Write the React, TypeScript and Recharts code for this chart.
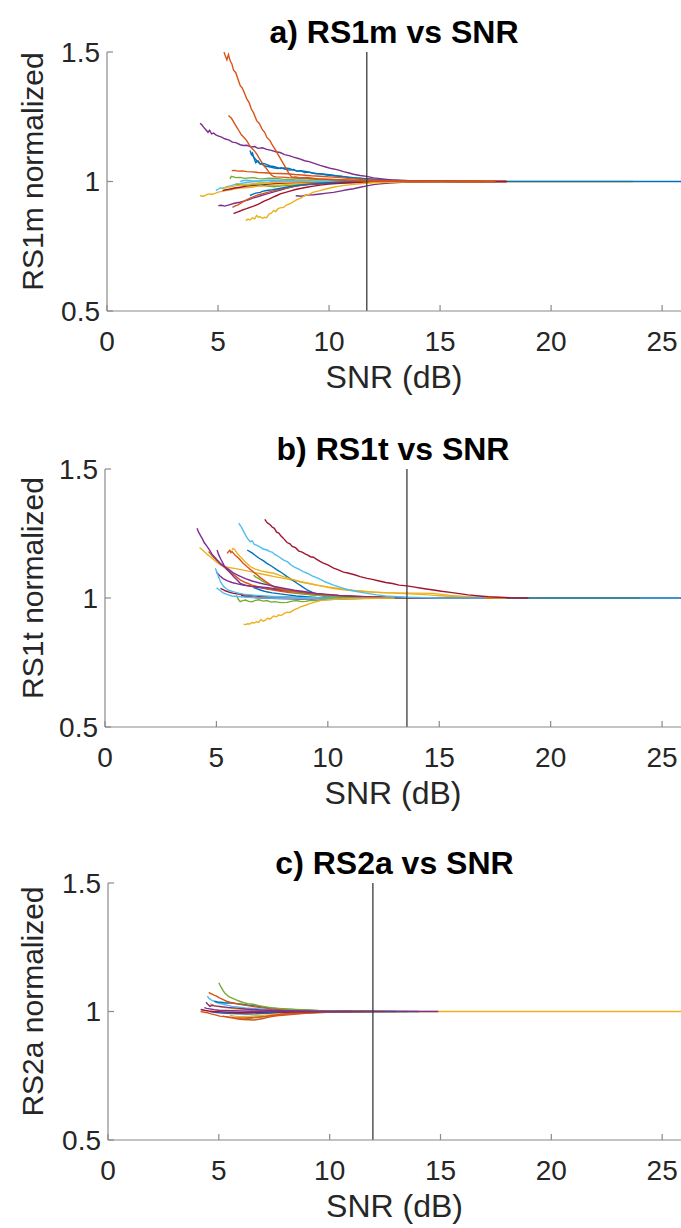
import React from 'react';
import { LineChart, Line, XAxis, YAxis, ReferenceLine, Label } from 'recharts';

const FONT = '"Liberation Sans", Arial, Helvetica, sans-serif';
const X_TICKS = [0, 5, 10, 15, 20, 25];
const Y_TICKS = [0.5, 1, 1.5];
const X_DOMAIN: [number, number] = [0, 25.85];
const Y_DOMAIN: [number, number] = [0.5, 1.5];

const C = {
  blue: '#0072BD',
  orange: '#D95319',
  yellow: '#EDB120',
  purple: '#7E2F8E',
  green: '#77AC30',
  cyan: '#4DBEEE',
  red: '#A2142F',
};

type P = [number, number][];

// ---------- Panel a) RS1m ----------
const A_yellowLong: P = [[4.19,0.946],[4.3,0.943],[4.4,0.945],[4.5,0.95],[4.6,0.952],[4.75,0.951],[4.9,0.955],[5.05,0.96],[5.2,0.962],[5.4,0.966],[5.6,0.968],[5.8,0.973],[6.0,0.975],[6.25,0.976],[6.5,0.978],[6.75,0.981],[7.0,0.982],[7.3,0.983],[7.6,0.985],[8.0,0.988],[8.3,0.99],[8.7,0.991],[9.2,0.993],[9.7,0.995],[10.2,0.996],[10.8,0.997],[11.5,0.998],[12.2,0.999],[13,1.0],[16,1.0],[20,1.0],[23.7,1.0]];
const A_blue1: P = [[6.44,1.12],[6.5,1.105],[6.55,1.11],[6.62,1.09],[6.7,1.072],[6.8,1.08],[6.9,1.068],[7.0,1.066],[7.1,1.06],[7.25,1.058],[7.4,1.055],[7.55,1.052],[7.7,1.05],[7.85,1.053],[8.0,1.048],[8.2,1.044],[8.4,1.046],[8.55,1.04],[8.7,1.042],[8.9,1.035],[9.1,1.036],[9.35,1.031],[9.6,1.03],[9.9,1.025],[10.2,1.022],[10.5,1.02],[10.9,1.015],[11.3,1.013],[11.7,1.01],[12.1,1.007],[12.5,1.005],[13.2,1.003],[14,1.002],[16,1.0],[20,1.0],[26,1.0]];
const A_blue2: P = [[6.5,1.105],[6.6,1.095],[6.7,1.085],[6.8,1.075],[6.9,1.068],[7.05,1.07],[7.2,1.065],[7.35,1.06],[7.5,1.058],[7.65,1.054],[7.8,1.05],[8.0,1.052],[8.2,1.05],[8.4,1.044],[8.6,1.04],[8.8,1.041],[9.0,1.038],[9.25,1.033],[9.5,1.03],[9.8,1.028],[10.1,1.025],[10.4,1.021],[10.8,1.018],[11.1,1.015],[11.5,1.012],[12.0,1.009],[12.5,1.006],[13.2,1.004],[14,1.002],[17,1.0]];
const A_orange1: P = [[5.27,1.5],[5.33,1.485],[5.4,1.47],[5.47,1.49],[5.55,1.465],[5.62,1.455],[5.7,1.43],[5.8,1.42],[5.9,1.395],[6.0,1.37],[6.08,1.362],[6.15,1.35],[6.22,1.335],[6.29,1.32],[6.4,1.305],[6.5,1.28],[6.6,1.265],[6.74,1.235],[6.85,1.225],[7.0,1.2],[7.1,1.19],[7.2,1.17],[7.34,1.158],[7.45,1.14],[7.6,1.12],[7.7,1.105],[7.87,1.08],[8.0,1.06],[8.1,1.045],[8.2,1.03],[8.32,1.017],[8.5,1.018],[8.7,1.014],[9.0,1.016],[9.5,1.01],[10.2,1.008],[11,1.005],[12,1.003],[13,1.002],[15,1.001],[17.5,1.0]];
const A_orange2: P = [[5.47,1.255],[5.53,1.25],[5.6,1.245],[5.7,1.23],[5.84,1.21],[5.95,1.195],[6.05,1.18],[6.15,1.172],[6.29,1.158],[6.4,1.142],[6.5,1.13],[6.62,1.12],[6.74,1.107],[6.85,1.09],[7.0,1.07],[7.1,1.058],[7.19,1.049],[7.3,1.035],[7.4,1.025],[7.5,1.02],[7.6,1.018],[7.9,1.017],[8.2,1.015],[8.8,1.013],[9.5,1.01],[10.2,1.007],[11,1.004],[12,1.002],[13,1.001],[17,1.0]];
const A_purpleHigh: P = [[4.19,1.225],[4.28,1.218],[4.35,1.21],[4.45,1.2],[4.55,1.19],[4.62,1.198],[4.71,1.184],[4.8,1.187],[4.9,1.18],[5.0,1.176],[5.16,1.171],[5.3,1.165],[5.5,1.16],[5.65,1.152],[5.8,1.15],[6.0,1.142],[6.14,1.139],[6.3,1.14],[6.5,1.133],[6.65,1.135],[6.8,1.128],[7.0,1.13],[7.19,1.124],[7.4,1.12],[7.6,1.115],[7.8,1.112],[8.0,1.104],[8.2,1.1],[8.4,1.094],[8.65,1.088],[8.9,1.08],[9.1,1.077],[9.4,1.068],[9.6,1.062],[9.89,1.055],[10.1,1.05],[10.4,1.045],[10.65,1.038],[10.9,1.033],[11.1,1.028],[11.4,1.023],[11.7,1.02],[12,1.014],[12.4,1.01],[12.8,1.006],[13.3,1.004],[14,1.002],[16,1.0]];
const A_orangeFlat: P = [[5.62,1.042],[5.75,1.043],[5.9,1.04],[6.1,1.041],[6.3,1.038],[6.55,1.037],[6.8,1.035],[7.1,1.034],[7.4,1.032],[7.75,1.031],[8.1,1.03],[8.45,1.027],[8.8,1.025],[9.2,1.022],[9.6,1.02],[10.0,1.018],[10.5,1.015],[11.0,1.011],[11.5,1.008],[12.2,1.005],[13,1.003],[15,1.001],[18,1.0]];
const A_green1: P = [[5.54,1.01],[5.6,1.02],[5.7,1.018],[5.8,1.015],[6.0,1.016],[6.2,1.012],[6.4,1.014],[6.6,1.015],[6.8,1.011],[7.0,1.01],[7.3,1.013],[7.6,1.012],[7.9,1.009],[8.3,1.008],[8.6,1.011],[9.0,1.01],[9.5,1.007],[10,1.006],[11,1.004],[12.5,1.002],[14.5,1.0],[17.5,1.0]];
const A_cyan1: P = [[4.9,0.965],[5.0,0.97],[5.1,0.975],[5.25,0.974],[5.4,0.98],[5.6,0.984],[5.8,0.99],[6.0,0.992],[6.2,0.995],[6.45,0.998],[6.7,1.0],[7.0,0.997],[7.3,0.998],[7.65,1.001],[8.0,1.002],[8.5,0.999],[9,1.0],[9.7,1.001],[10.5,1.002],[12,1.0],[15,1.0]];
const A_purpleLow: P = [[5.01,0.907],[5.15,0.908],[5.3,0.905],[5.5,0.91],[5.7,0.915],[5.85,0.918],[6.0,0.92],[6.2,0.925],[6.4,0.93],[6.55,0.936],[6.74,0.94],[6.95,0.946],[7.2,0.952],[7.4,0.957],[7.6,0.962],[7.85,0.968],[8.1,0.975],[8.4,0.98],[8.7,0.985],[9.1,0.988],[9.5,0.99],[10,0.993],[10.5,0.995],[11.2,0.997],[12,0.998],[14,1.0],[16,1.0]];
const A_purpleLow2: P = [[8.5,0.945],[8.75,0.943],[9.0,0.948],[9.3,0.949],[9.6,0.952],[9.9,0.955],[10.2,0.958],[10.5,0.963],[10.8,0.968],[11.1,0.972],[11.4,0.978],[11.7,0.983],[12,0.988],[12.3,0.991],[12.7,0.994],[13.1,0.996],[13.5,0.998],[15,1.0]];
const A_redLow: P = [[5.7,0.876],[5.8,0.88],[5.9,0.883],[6.0,0.886],[6.1,0.89],[6.25,0.894],[6.44,0.9],[6.6,0.905],[6.8,0.912],[6.95,0.918],[7.1,0.925],[7.3,0.932],[7.48,0.94],[7.65,0.946],[7.8,0.952],[8.0,0.957],[8.2,0.962],[8.45,0.968],[8.7,0.973],[9.0,0.978],[9.3,0.982],[9.6,0.986],[10,0.99],[10.5,0.993],[11,0.995],[11.7,0.997],[12.5,0.999],[15,1.0],[18,1.0]];
const A_yellowLow: P = [[6.25,0.849],[6.35,0.855],[6.45,0.852],[6.55,0.86],[6.65,0.856],[6.74,0.869],[6.82,0.862],[6.9,0.864],[7.0,0.858],[7.1,0.862],[7.19,0.86],[7.3,0.874],[7.4,0.878],[7.5,0.888],[7.6,0.884],[7.7,0.895],[7.8,0.898],[7.95,0.9],[8.1,0.91],[8.24,0.914],[8.4,0.922],[8.55,0.93],[8.7,0.935],[8.9,0.945],[9.1,0.95],[9.3,0.959],[9.55,0.964],[9.8,0.97],[10.0,0.974],[10.2,0.978],[10.6,0.984],[11,0.988],[11.5,0.992],[12,0.995],[12.7,0.997],[13.5,0.999],[16,1.0]];
const A_blueLow: P = [[6.44,0.946],[6.55,0.95],[6.7,0.955],[6.9,0.958],[7.0,0.962],[7.19,0.965],[7.45,0.968],[7.7,0.972],[7.95,0.976],[8.2,0.98],[8.5,0.984],[8.8,0.987],[9.1,0.99],[9.5,0.992],[10,0.995],[10.5,0.997],[11.2,0.999],[12,1.0],[14,1.0]];
const A_redMid: P = [[5.2,0.965],[5.35,0.968],[5.5,0.97],[5.75,0.975],[6,0.978],[6.3,0.982],[6.6,0.985],[6.95,0.988],[7.3,0.99],[7.75,0.993],[8.2,0.995],[8.8,0.997],[9.5,0.998],[11,1.0],[14,1.0],[18,1.0]];
const A_green2: P = [[5.8,0.99],[6.0,0.988],[6.2,0.985],[6.5,0.988],[6.8,0.99],[7.1,0.984],[7.5,0.98],[7.9,0.983],[8.3,0.985],[8.7,0.988],[9.2,0.99],[9.7,0.993],[10.2,0.995],[10.8,0.997],[11.5,0.998],[13,1.0],[17,1.0]];
const A_orangeLow: P = [[5.65,0.9],[5.75,0.905],[5.9,0.91],[6.1,0.92],[6.3,0.93],[6.55,0.94],[6.8,0.948],[7.1,0.955],[7.4,0.962],[7.75,0.969],[8.1,0.975],[8.5,0.982],[9,0.988],[9.5,0.992],[10,0.995],[10.7,0.997],[11.5,0.999],[14,1.0]];
const A_yellowMid: P = [[5.2,0.975],[5.4,0.977],[5.6,0.98],[5.85,0.984],[6.1,0.988],[6.4,0.99],[6.7,0.992],[7.1,0.994],[7.5,0.996],[8.0,0.997],[8.5,0.998],[10,1.0],[13,1.0],[17,1.0]];
const A_cyan2: P = [[6.0,1.0],[6.15,1.004],[6.3,1.005],[6.55,1.003],[6.8,1.002],[7.15,1.005],[7.5,1.006],[7.9,1.004],[8.3,1.004],[8.75,1.005],[9.2,1.003],[9.8,1.002],[10.5,1.001],[12,1.0],[15,1.0]];

// ---------- Panel b) RS1t ----------
const B_yellowUp: P = [[4.24,1.196],[4.35,1.188],[4.45,1.18],[4.6,1.168],[4.73,1.16],[4.85,1.15],[5.0,1.14],[5.15,1.13],[5.33,1.121],[5.55,1.118],[5.8,1.115],[6.1,1.11],[6.53,1.102],[6.85,1.096],[7.2,1.09],[7.6,1.083],[8.02,1.076],[8.35,1.07],[8.7,1.064],[9.1,1.057],[9.52,1.05],[10.0,1.043],[10.5,1.037],[11.1,1.03],[11.76,1.024],[12.4,1.021],[13,1.02],[13.8,1.019],[14.74,1.018],[15.1,1.014],[15.5,1.01],[16.0,1.007],[16.5,1.004],[17.2,1.002],[18,1.0],[21,1.0],[24,1.0]];
const B_blue: P = [[6.38,1.186],[6.5,1.18],[6.6,1.175],[6.75,1.165],[6.9,1.155],[7.1,1.145],[7.27,1.134],[7.5,1.122],[7.7,1.11],[7.95,1.097],[8.17,1.083],[8.4,1.07],[8.6,1.058],[8.85,1.044],[9.07,1.031],[9.35,1.02],[9.6,1.012],[9.9,1.006],[10.26,1.003],[10.8,1.0],[11.5,0.999],[12.5,1.0],[14,1.0],[20,1.0],[26,1.0]];
const B_redHigh: P = [[7.17,1.305],[7.25,1.295],[7.3,1.29],[7.4,1.285],[7.5,1.275],[7.6,1.27],[7.7,1.255],[7.8,1.252],[7.9,1.24],[8.0,1.232],[8.17,1.215],[8.3,1.21],[8.4,1.2],[8.55,1.195],[8.7,1.182],[8.85,1.178],[9.0,1.17],[9.1,1.166],[9.22,1.16],[9.35,1.158],[9.5,1.15],[9.65,1.142],[9.8,1.135],[10.0,1.128],[10.26,1.116],[10.45,1.11],[10.7,1.1],[10.9,1.097],[11.2,1.09],[11.45,1.083],[11.76,1.076],[12.0,1.072],[12.3,1.066],[12.6,1.06],[12.9,1.056],[13.2,1.05],[13.55,1.047],[13.9,1.042],[14.2,1.038],[14.5,1.034],[14.74,1.031],[15.1,1.026],[15.5,1.022],[15.9,1.017],[16.3,1.012],[16.8,1.008],[17.2,1.005],[17.7,1.003],[18.2,1.001],[19,1.0]];
const B_cyanHigh: P = [[6.0,1.29],[6.08,1.28],[6.15,1.27],[6.22,1.258],[6.3,1.245],[6.4,1.23],[6.52,1.218],[6.6,1.222],[6.7,1.208],[6.8,1.205],[6.9,1.2],[7.0,1.195],[7.1,1.19],[7.27,1.186],[7.4,1.18],[7.5,1.178],[7.6,1.17],[7.8,1.16],[8.02,1.147],[8.2,1.14],[8.35,1.128],[8.5,1.12],[8.7,1.112],[8.9,1.102],[9.07,1.096],[9.3,1.086],[9.6,1.075],[9.9,1.062],[10.26,1.05],[10.6,1.04],[10.9,1.032],[11.3,1.025],[11.76,1.018],[12.2,1.012],[12.6,1.008],[13.5,1.003],[15,1.0],[17,1.0]];
const B_purple1: P = [[4.13,1.27],[4.2,1.255],[4.3,1.24],[4.38,1.228],[4.45,1.215],[4.58,1.2],[4.7,1.185],[4.8,1.17],[4.92,1.158],[5.03,1.147],[5.2,1.132],[5.4,1.12],[5.6,1.108],[5.78,1.096],[6.0,1.087],[6.3,1.075],[6.6,1.066],[6.98,1.057],[7.3,1.051],[7.6,1.045],[8.0,1.038],[8.5,1.03],[9.0,1.024],[9.5,1.018],[10.0,1.014],[10.5,1.01],[11.2,1.007],[12,1.004],[13,1.002],[14,1.0],[17,1.0]];
const B_yellow2: P = [[5.7,1.186],[5.75,1.192],[5.8,1.19],[5.92,1.175],[6.07,1.16],[6.18,1.15],[6.3,1.14],[6.42,1.13],[6.53,1.121],[6.75,1.112],[7.0,1.105],[7.3,1.1],[7.57,1.096],[7.85,1.088],[8.1,1.08],[8.45,1.071],[8.77,1.063],[9.1,1.057],[9.5,1.05],[9.9,1.043],[10.26,1.037],[10.7,1.032],[11.2,1.028],[11.7,1.025],[12.2,1.022],[12.7,1.02],[13.25,1.018],[13.9,1.015],[14.5,1.012],[15.2,1.008],[16,1.004],[17,1.002],[18,1.0]];
const B_orange1: P = [[5.48,1.173],[5.55,1.18],[5.6,1.185],[5.65,1.176],[5.7,1.18],[5.78,1.172],[5.85,1.165],[5.95,1.158],[6.07,1.147],[6.2,1.135],[6.38,1.121],[6.6,1.105],[6.83,1.089],[7.0,1.077],[7.2,1.065],[7.4,1.053],[7.57,1.044],[7.8,1.036],[8.1,1.03],[8.4,1.027],[8.77,1.024],[9.2,1.019],[9.6,1.015],[10.2,1.011],[10.8,1.008],[11.6,1.005],[12.5,1.003],[15,1.0],[18,1.0]];
const B_orange2: P = [[4.65,1.18],[4.75,1.17],[4.85,1.16],[4.97,1.15],[5.1,1.14],[5.2,1.13],[5.33,1.121],[5.5,1.108],[5.7,1.095],[5.9,1.082],[6.07,1.07],[6.3,1.06],[6.6,1.05],[6.95,1.042],[7.3,1.035],[7.75,1.028],[8.2,1.022],[8.7,1.017],[9.3,1.012],[9.9,1.009],[10.5,1.006],[11.2,1.004],[12,1.002],[15,1.0]];
const B_purple2: P = [[5.03,1.186],[5.1,1.168],[5.2,1.15],[5.28,1.137],[5.35,1.125],[5.48,1.11],[5.65,1.095],[5.8,1.08],[5.95,1.068],[6.07,1.057],[6.3,1.05],[6.6,1.045],[6.95,1.043],[7.3,1.04],[7.7,1.035],[8.1,1.03],[8.5,1.025],[9,1.02],[9.5,1.016],[10,1.012],[10.7,1.008],[11.5,1.004],[12.5,1.002],[13.5,1.0],[17,1.0]];
const B_cyan2: P = [[4.95,1.115],[5.02,1.1],[5.1,1.08],[5.2,1.06],[5.33,1.044],[5.45,1.036],[5.55,1.03],[5.65,1.027],[5.78,1.024],[6.0,1.019],[6.2,1.015],[6.5,1.012],[6.8,1.01],[7.2,1.008],[7.6,1.006],[8.1,1.004],[8.6,1.002],[10,1.0],[13,1.0]];
const B_redLow: P = [[5.18,1.037],[5.3,1.032],[5.4,1.028],[5.6,1.022],[5.78,1.018],[6.0,1.015],[6.3,1.012],[6.55,1.01],[6.8,1.008],[7.0,1.006],[7.27,1.005],[7.7,1.004],[8.2,1.003],[8.8,1.001],[9.5,1.0],[12,1.0],[16,1.0]];
const B_green1: P = [[5.9,1.01],[5.98,0.995],[6.07,0.986],[6.18,0.99],[6.3,0.992],[6.45,0.987],[6.6,0.985],[6.75,0.991],[6.9,0.993],[7.1,0.988],[7.27,0.99],[7.45,0.984],[7.6,0.986],[7.9,0.982],[8.17,0.983],[8.4,0.988],[8.6,0.99],[8.8,0.986],[9.0,0.987],[9.25,0.991],[9.52,0.99],[9.9,0.993],[10.3,0.995],[10.9,0.997],[11.5,0.998],[13,1.0],[17,1.0]];
const B_yellowLow: P = [[6.22,0.898],[6.3,0.897],[6.4,0.9],[6.5,0.899],[6.6,0.905],[6.7,0.903],[6.8,0.908],[6.9,0.905],[7.0,0.917],[7.1,0.91],[7.2,0.914],[7.3,0.922],[7.4,0.918],[7.57,0.93],[7.7,0.927],[7.8,0.935],[7.9,0.932],[8.05,0.94],[8.17,0.945],[8.3,0.944],[8.5,0.955],[8.65,0.96],[8.77,0.966],[9.0,0.972],[9.2,0.978],[9.45,0.985],[9.67,0.99],[10.0,0.993],[10.3,0.995],[11,0.997],[11.5,0.999],[13,1.0]];
const B_green2: P = [[6.67,1.089],[6.75,1.082],[6.9,1.075],[7.05,1.066],[7.2,1.06],[7.4,1.051],[7.57,1.044],[7.8,1.037],[8.1,1.03],[8.4,1.024],[8.77,1.018],[9.1,1.014],[9.5,1.01],[10,1.007],[10.5,1.004],[11.2,1.002],[12,1.0],[16,1.0]];
const B_blue2: P = [[6.67,1.04],[6.8,1.036],[7.0,1.03],[7.25,1.024],[7.5,1.02],[7.85,1.016],[8.2,1.012],[8.6,1.008],[9.0,1.005],[9.5,1.002],[10,1.0],[10.5,0.997],[11,0.998],[11.7,0.999],[12.5,1.0],[16,1.0]];
const B_purple3: P = [[5.0,1.1],[5.15,1.086],[5.3,1.075],[5.5,1.066],[5.7,1.06],[5.95,1.055],[6.2,1.05],[6.55,1.045],[6.9,1.04],[7.35,1.035],[7.8,1.03],[8.3,1.025],[8.8,1.02],[9.4,1.015],[10,1.01],[10.7,1.007],[11.5,1.004],[12.5,1.002],[13.5,1.0],[17,1.0]];
const B_redLow2: P = [[6.1,1.01],[6.3,1.007],[6.5,1.005],[6.75,1.002],[7.0,1.0],[7.4,0.999],[7.8,0.998],[8.3,0.997],[8.8,0.996],[9.4,0.997],[10,0.998],[11,0.999],[12,1.0],[16,1.0]];
const B_cyanLow: P = [[5.0,1.04],[5.15,1.03],[5.3,1.02],[5.5,1.013],[5.7,1.008],[5.95,1.006],[6.2,1.004],[6.6,1.002],[7,1.0],[8,0.999],[9,0.998],[10,0.999],[11,1.0],[14,1.0]];

// ---------- Panel c) RS2a ----------
const C_yellow: P = [[4.6,1.03],[4.75,1.025],[4.9,1.02],[5.1,1.017],[5.3,1.015],[5.55,1.012],[5.8,1.01],[6.15,1.008],[6.5,1.006],[7.0,1.004],[7.5,1.003],[8.2,1.002],[9,1.001],[11,1.0],[15,1.0],[20,1.0],[26,1.0]];
const C_green1: P = [[5.0,1.112],[5.05,1.103],[5.1,1.095],[5.15,1.088],[5.2,1.08],[5.27,1.072],[5.34,1.066],[5.45,1.058],[5.6,1.052],[5.75,1.046],[5.94,1.04],[6.1,1.035],[6.3,1.03],[6.45,1.029],[6.6,1.027],[6.8,1.023],[7.0,1.02],[7.2,1.017],[7.42,1.014],[7.7,1.012],[8.0,1.01],[8.5,1.008],[9.0,1.006],[9.5,1.004],[10.5,1.002],[12,1.0],[13.5,1.0]];
const C_orange1: P = [[4.55,1.075],[4.62,1.07],[4.7,1.068],[4.8,1.063],[4.9,1.06],[5.0,1.054],[5.1,1.05],[5.22,1.045],[5.34,1.04],[5.5,1.036],[5.7,1.032],[5.9,1.029],[6.07,1.026],[6.3,1.023],[6.5,1.02],[6.8,1.016],[7.1,1.013],[7.5,1.01],[8,1.008],[8.5,1.006],[9,1.004],[9.7,1.002],[10.5,1.001],[12.5,1.0]];
const C_cyan: P = [[4.48,1.06],[4.55,1.052],[4.65,1.045],[4.78,1.04],[4.9,1.035],[5.05,1.031],[5.2,1.028],[5.4,1.024],[5.6,1.02],[5.9,1.017],[6.2,1.014],[6.5,1.012],[6.8,1.01],[7.2,1.008],[7.6,1.006],[8.1,1.004],[8.6,1.003],[9.3,1.001],[10,1.0],[12,1.0]];
const C_blue1: P = [[4.8,1.04],[4.95,1.037],[5.1,1.036],[5.3,1.033],[5.57,1.034],[5.75,1.031],[5.9,1.03],[6.05,1.028],[6.2,1.026],[6.5,1.023],[6.8,1.02],[7.1,1.016],[7.42,1.013],[7.8,1.01],[8.2,1.008],[8.7,1.006],[9.2,1.004],[9.8,1.002],[10.5,1.001],[13,1.0]];
const C_red: P = [[4.18,1.008],[4.3,1.006],[4.4,1.004],[4.55,1.002],[4.73,1.0],[4.95,0.999],[5.2,0.998],[5.5,0.997],[5.8,0.996],[6.15,0.995],[6.5,0.996],[6.9,0.997],[7.4,0.998],[8.0,0.998],[8.5,0.999],[10,1.0],[12,1.0]];
const C_orangeLow1: P = [[4.18,1.0],[4.35,0.997],[4.5,0.995],[4.65,0.991],[4.8,0.988],[4.92,0.985],[5.04,0.982],[5.25,0.98],[5.5,0.978],[5.7,0.976],[5.94,0.975],[6.2,0.975],[6.5,0.977],[6.8,0.979],[7.1,0.981],[7.5,0.986],[7.9,0.99],[8.3,0.993],[8.8,0.995],[9.4,0.997],[10,0.999],[11.5,1.0]];
const C_orangeLow2: P = [[5.19,0.982],[5.35,0.979],[5.5,0.976],[5.65,0.974],[5.8,0.972],[5.95,0.97],[6.1,0.969],[6.35,0.968],[6.6,0.967],[6.8,0.97],[7.0,0.973],[7.2,0.977],[7.45,0.981],[7.7,0.984],[8.0,0.986],[8.25,0.988],[8.5,0.99],[8.9,0.993],[9.3,0.995],[9.9,0.997],[10.5,0.999],[12,1.0]];
const C_yellowLow: P = [[5.5,0.985],[5.7,0.982],[5.9,0.98],[6.15,0.981],[6.4,0.982],[6.7,0.984],[7,0.985],[7.4,0.988],[7.8,0.99],[8.3,0.993],[8.8,0.995],[9.4,0.997],[10,0.998],[12,1.0]];
const C_greenLow: P = [[5.94,0.971],[6.05,0.97],[6.2,0.972],[6.4,0.973],[6.6,0.975],[6.85,0.977],[7.1,0.98],[7.45,0.984],[7.8,0.987],[8.2,0.99],[8.7,0.993],[9.2,0.995],[9.8,0.997],[10.5,0.999],[11.5,1.0]];
const C_blueLow: P = [[4.6,1.0],[4.8,0.997],[5,0.995],[5.3,0.993],[5.6,0.992],[5.95,0.991],[6.3,0.99],[6.7,0.991],[7.2,0.993],[7.7,0.995],[8.2,0.996],[8.8,0.998],[9.5,0.999],[11.5,1.0],[14,1.0]];
const C_purple2: P = [[4.35,1.015],[4.45,1.012],[4.6,1.01],[4.8,1.007],[5.0,1.005],[5.3,1.004],[5.6,1.003],[6.0,1.002],[6.5,1.001],[8,1.0],[11,1.0]];
const C_purple: P = [[4.42,1.036],[4.5,1.028],[4.6,1.02],[4.7,1.024],[4.8,1.022],[4.92,1.021],[5.03,1.02],[5.2,1.018],[5.4,1.016],[5.65,1.014],[5.9,1.012],[6.2,1.01],[6.5,1.008],[6.9,1.006],[7.3,1.005],[7.9,1.003],[8.5,1.002],[9.2,1.001],[10,1.0],[12,1.0],[14.9,1.0]];

type S = { color: string; pts: P };

const SERIES_A: S[] = [
  { color: C.yellow, pts: A_yellowLong },
  { color: C.blue, pts: A_blue1 },
  { color: C.blue, pts: A_blue2 },
  { color: C.green, pts: A_green1 },
  { color: C.cyan, pts: A_cyan1 },
  { color: C.red, pts: A_redMid },
  { color: C.green, pts: A_green2 },
  { color: C.yellow, pts: A_yellowMid },
  { color: C.cyan, pts: A_cyan2 },
  { color: C.orange, pts: A_orangeFlat },
  { color: C.purple, pts: A_purpleLow },
  { color: C.purple, pts: A_purpleLow2 },
  { color: C.orange, pts: A_orangeLow },
  { color: C.blue, pts: A_blueLow },
  { color: C.red, pts: A_redLow },
  { color: C.yellow, pts: A_yellowLow },
  { color: C.purple, pts: A_purpleHigh },
  { color: C.orange, pts: A_orange2 },
  { color: C.orange, pts: A_orange1 },
];

const SERIES_B: S[] = [
  { color: C.yellow, pts: B_yellowUp },
  { color: C.blue, pts: B_blue },
  { color: C.green, pts: B_green1 },
  { color: C.red, pts: B_redLow },
  { color: C.red, pts: B_redLow2 },
  { color: C.cyan, pts: B_cyanLow },
  { color: C.blue, pts: B_blue2 },
  { color: C.purple, pts: B_purple3 },
  { color: C.cyan, pts: B_cyan2 },
  { color: C.orange, pts: B_orange2 },
  { color: C.purple, pts: B_purple2 },
  { color: C.green, pts: B_green2 },
  { color: C.orange, pts: B_orange1 },
  { color: C.yellow, pts: B_yellow2 },
  { color: C.purple, pts: B_purple1 },
  { color: C.yellow, pts: B_yellowLow },
  { color: C.cyan, pts: B_cyanHigh },
  { color: C.red, pts: B_redHigh },
];

const SERIES_C: S[] = [
  { color: C.yellow, pts: C_yellow },
  { color: C.blue, pts: C_blueLow },
  { color: C.yellow, pts: C_yellowLow },
  { color: C.green, pts: C_greenLow },
  { color: C.orange, pts: C_orangeLow2 },
  { color: C.orange, pts: C_orangeLow1 },
  { color: C.red, pts: C_red },
  { color: C.cyan, pts: C_cyan },
  { color: C.blue, pts: C_blue1 },
  { color: C.orange, pts: C_orange1 },
  { color: C.green, pts: C_green1 },
  { color: C.purple, pts: C_purple2 },
  { color: C.purple, pts: C_purple },
];

const AXIS_COLOR = '#8a8a8a';
const TEXT_COLOR = '#262626';

type PanelProps = {
  title: string;
  ylabel: string;
  series: S[];
  vline: number;
  axisLeft: number;
  top: number;
  plotH: number;
};

function Panel({ title, ylabel, series, vline, axisLeft, top, plotH }: PanelProps) {
  const W = 681;
  const H = 410;
  const mTop = 52;
  const xAxisH = H - mTop - plotH;
  const plotW = W - axisLeft;
  return (
    <div style={{ position: 'absolute', left: 0, top, width: W, height: H }}>
      <LineChart
        width={W}
        height={H}
        margin={{ top: mTop, right: 0, bottom: 0, left: 0 }}
      >
        <XAxis
          type="number"
          dataKey="x"
          domain={X_DOMAIN}
          ticks={X_TICKS}
          interval={0}
          allowDataOverflow
          height={xAxisH}
          axisLine={{ stroke: AXIS_COLOR, strokeWidth: 1.2 }}
          tickLine={{ stroke: AXIS_COLOR, strokeWidth: 1.2 }}
          tickSize={-6}
          tickMargin={26}
          tick={{ fontSize: 28, fill: TEXT_COLOR, fontFamily: FONT }}
        >
          <Label
            content={(props: any) => {
              const vb = props.viewBox || {};
              return (
                <text
                  x={axisLeft + plotW / 2}
                  y={(vb.y ?? mTop + plotH) + 77}
                  textAnchor="middle"
                  fontSize={32}
                  fill={TEXT_COLOR}
                  fontFamily={FONT}
                >
                  SNR (dB)
                </text>
              );
            }}
          />
        </XAxis>
        <YAxis
          type="number"
          domain={Y_DOMAIN}
          ticks={Y_TICKS}
          interval={0}
          allowDataOverflow
          width={axisLeft}
          axisLine={{ stroke: AXIS_COLOR, strokeWidth: 1.2 }}
          tickLine={{ stroke: AXIS_COLOR, strokeWidth: 1.2 }}
          tickSize={-6}
          tickMargin={13}
          tick={{ fontSize: 28, fill: TEXT_COLOR, fontFamily: FONT }}
        >
          <Label
            content={() => {
              const cy = mTop + plotH / 2 - 10;
              return (
                <text
                  x={43}
                  y={cy}
                  transform={`rotate(-90, 43, ${cy})`}
                  textAnchor="middle"
                  fontSize={30}
                  fill={TEXT_COLOR}
                  fontFamily={FONT}
                >
                  {ylabel}
                </text>
              );
            }}
          />
        </YAxis>
        {series.map((s, i) => (
          <Line
            key={i}
            data={s.pts.map(([x, y]) => ({ x, y }))}
            dataKey="y"
            type="linear"
            stroke={s.color}
            strokeWidth={1.4}
            dot={false}
            activeDot={false}
            isAnimationActive={false}
          />
        ))}
        <ReferenceLine x={vline} stroke="#3a3a3a" strokeWidth={1.3} ifOverflow="visible" />
      </LineChart>
      <svg
        width={W}
        height={50}
        style={{ position: 'absolute', left: 0, top: 0, pointerEvents: 'none' }}
      >
        <text
          x={axisLeft + plotW / 2}
          y={43}
          textAnchor="middle"
          fontSize={32}
          fontWeight="bold"
          fill="#000"
          fontFamily={FONT}
        >
          {title}
        </text>
      </svg>
    </div>
  );
}

export default function App() {
  return (
    <div
      style={{
        position: 'absolute',
        left: 0,
        top: 0,
        width: 681,
        height: 1228,
        background: '#fff',
        overflow: 'hidden',
      }}
    >
      <Panel title="a) RS1m vs SNR" ylabel="RS1m normalized" series={SERIES_A} vline={11.7} axisLeft={107} top={0} plotH={259} />
      <Panel title="b) RS1t vs SNR" ylabel="RS1t normalized" series={SERIES_B} vline={13.55} axisLeft={105} top={417} plotH={258} />
      <Panel title="c) RS2a vs SNR" ylabel="RS2a normalized" series={SERIES_C} vline={11.95} axisLeft={108} top={831} plotH={257} />
    </div>
  );
}
